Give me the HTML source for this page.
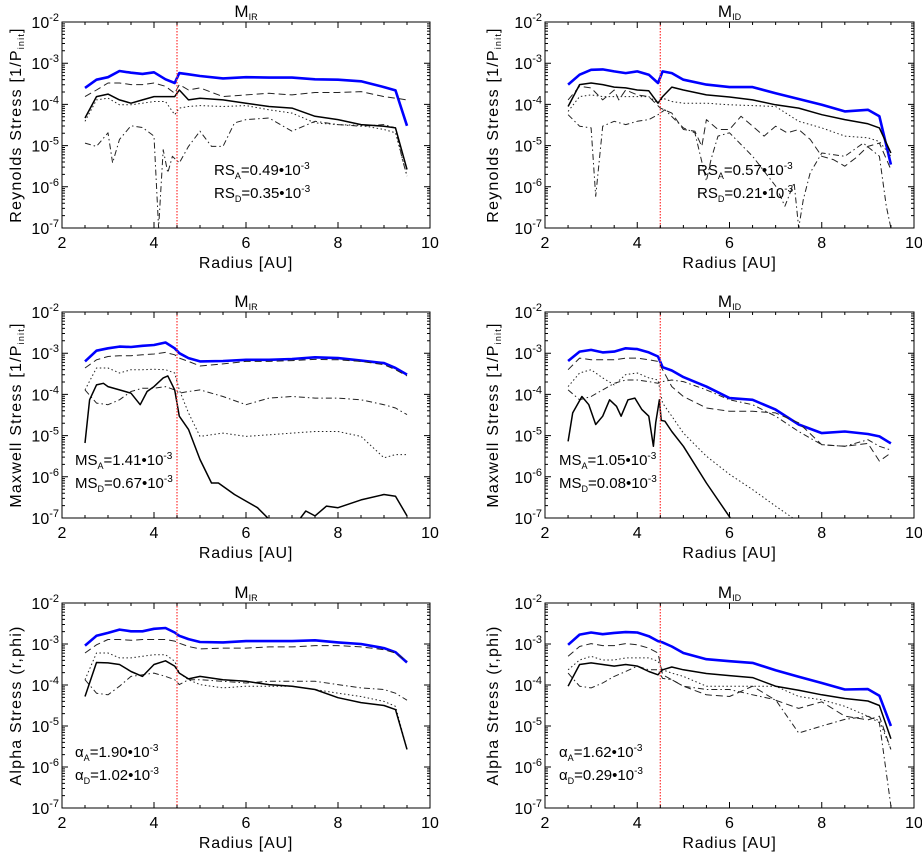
<!DOCTYPE html>
<html><head><meta charset="utf-8"><style>
html,body{margin:0;padding:0;background:#fff;}
svg{display:block;font-family:"Liberation Sans",sans-serif;}
</style></head><body>
<svg id="fig" width="922" height="852" viewBox="0 0 922 852" xmlns="http://www.w3.org/2000/svg"></svg>
<script>
// Shared radius grid (AU)
const G = [2.5,2.75,3,3.25,3.5,3.75,4,4.25,4.45,4.55,4.75,5,5.5,6,6.5,7,7.5,8,8.5,9,9.25,9.5];
const xTicks = [2,4,6,8,10];
const yExps = [-2,-3,-4,-5,-6,-7];
// All series values are log10 of stress
// Panel 1: Reynolds M_IR
const p1Blue = [-3.6,-3.4,-3.34,-3.19,-3.23,-3.26,-3.22,-3.39,-3.48,-3.24,-3.27,-3.31,-3.37,-3.34,-3.35,-3.35,-3.39,-3.4,-3.44,-3.58,-3.66,-4.52];
const p1Dash = [-3.81,-3.65,-3.48,-3.48,-3.52,-3.52,-3.48,-3.56,-3.73,-3.52,-3.65,-3.6,-3.81,-3.77,-3.73,-3.77,-3.71,-3.71,-3.69,-3.81,-3.85,-3.89];
const p1Solid = [-4.33,-3.81,-3.75,-3.89,-3.97,-3.89,-3.81,-3.81,-3.81,-3.65,-3.89,-3.85,-3.89,-3.97,-4.05,-4.09,-4.29,-4.37,-4.49,-4.53,-4.57,-5.58];
const p1Dot = [-4.41,-3.89,-3.85,-4.01,-4.01,-3.97,-3.93,-3.93,-4.25,-4.09,-4.05,-4.03,-4.05,-4.03,-4.13,-4.21,-4.45,-4.49,-4.51,-4.61,-4.69,-5.74];
const p1DdR = [2.5,2.75,3,3.1,3.25,3.5,3.75,4,4.1,4.2,4.3,4.4,4.55,4.75,5,5.25,5.5,5.75,6,6.5,7,7.5,8,8.5,9,9.25,9.4,9.5];
const p1Dd = [-4.94,-5.02,-4.69,-5.42,-4.85,-4.52,-4.56,-4.77,-7,-5.1,-5.66,-5.26,-5.42,-5.02,-4.65,-5.02,-5.02,-4.45,-4.37,-4.33,-4.65,-4.41,-4.49,-4.53,-4.49,-4.57,-5.34,-5.74];
// Panel 2: Maxwell M_IR
const p2Blue = [-3.2,-2.94,-2.88,-2.84,-2.85,-2.82,-2.8,-2.74,-2.88,-3.0,-3.12,-3.2,-3.19,-3.16,-3.16,-3.14,-3.1,-3.12,-3.18,-3.24,-3.36,-3.52];
const p2Dash = [-3.36,-3.16,-3.08,-3.06,-3.06,-3.04,-3.02,-2.98,-3.04,-3.12,-3.2,-3.31,-3.26,-3.2,-3.2,-3.18,-3.15,-3.16,-3.2,-3.28,-3.4,-3.55];
const p2Dot = [-3.89,-3.36,-3.36,-3.48,-3.4,-3.4,-3.39,-3.4,-3.48,-3.89,-4.45,-5.02,-4.94,-5.02,-4.98,-4.94,-4.9,-4.9,-5.02,-5.54,-5.46,-5.46];
const p2Dd = [-3.89,-4.21,-4.25,-4.13,-3.93,-3.85,-3.85,-3.81,-3.89,-3.97,-3.93,-3.89,-4.05,-4.25,-4.09,-4.05,-4.09,-4.09,-4.13,-4.25,-4.33,-4.49];
const p2SolidR = [2.5,2.6,2.75,2.9,3,3.25,3.5,3.7,3.85,4,4.2,4.3,4.45,4.55,4.75,5,5.25,5.4,5.75,6,6.25,6.5,7,7.3,7.5,7.75,8,8.5,9,9.25,9.5];
const p2Solid = [-5.18,-4.13,-3.77,-3.73,-3.81,-3.89,-3.97,-4.25,-3.93,-3.81,-3.6,-3.55,-3.89,-4.53,-4.85,-5.58,-6.15,-6.15,-6.43,-6.59,-6.75,-7.03,-7.27,-6.83,-6.95,-6.71,-6.75,-6.56,-6.43,-6.47,-6.95];
// Panel 3: Alpha M_IR
const p3Blue = [-3.04,-2.8,-2.73,-2.65,-2.69,-2.69,-2.63,-2.61,-2.72,-2.8,-2.88,-2.95,-2.96,-2.93,-2.93,-2.93,-2.91,-2.96,-3.0,-3.1,-3.2,-3.45];
const p3Dash = [-3.22,-3.02,-2.89,-2.89,-2.91,-2.89,-2.89,-2.89,-2.93,-2.98,-3.06,-3.12,-3.1,-3.1,-3.07,-3.07,-3.04,-3.04,-3.07,-3.14,-3.22,-3.42];
const p3Dot = [-3.87,-3.22,-3.22,-3.34,-3.34,-3.3,-3.26,-3.26,-3.42,-3.71,-3.87,-3.99,-4.07,-4.03,-4.03,-4.03,-4.11,-4.2,-4.28,-4.4,-4.52,-5.57];
const p3Solid = [-4.28,-3.45,-3.46,-3.5,-3.67,-3.79,-3.5,-3.41,-3.54,-3.71,-3.85,-3.79,-3.87,-3.91,-3.99,-4.03,-4.11,-4.31,-4.43,-4.5,-4.6,-5.57];
const p3Dd = [-3.87,-4.2,-4.24,-4.03,-3.79,-3.75,-3.71,-3.79,-3.87,-3.99,-3.87,-3.87,-3.91,-3.95,-3.91,-3.91,-3.91,-3.99,-4.07,-4.11,-4.2,-4.37];
// Panel 4: Reynolds M_ID
const p4Blue = [-3.52,-3.28,-3.16,-3.15,-3.2,-3.24,-3.2,-3.28,-3.48,-3.2,-3.24,-3.4,-3.52,-3.58,-3.58,-3.73,-3.87,-4.01,-4.17,-4.13,-4.29,-5.46];
const p4Solid = [-4.05,-3.52,-3.48,-3.52,-3.58,-3.6,-3.65,-3.67,-3.97,-3.81,-3.58,-3.65,-3.77,-3.82,-3.89,-4.01,-4.09,-4.25,-4.37,-4.47,-4.57,-5.18];
const p4Dot = [-4.17,-3.81,-3.77,-3.81,-3.81,-3.81,-3.81,-3.81,-3.97,-3.85,-3.93,-3.97,-3.97,-4.01,-4.03,-4.05,-4.41,-4.57,-4.77,-4.81,-4.9,-5.26];
const p4DashR = [2.5,2.75,3,3.25,3.5,3.6,3.75,4,4.25,4.5,4.75,5,5.25,5.4,5.5,5.75,6,6.25,6.5,6.75,7,7.25,7.5,7.75,8,8.25,8.5,8.75,9,9.25,9.5];
const p4Dash = [-3.89,-3.56,-3.6,-3.89,-3.65,-3.89,-3.65,-3.77,-3.81,-4.09,-4.21,-4.61,-4.65,-5.02,-4.37,-4.61,-4.61,-4.29,-4.53,-4.77,-4.53,-4.69,-4.61,-4.85,-5.26,-5.34,-5.5,-5.29,-5.02,-4.94,-5.58];
const p4DdR = [2.5,2.75,3,3.1,3.25,3.5,3.75,4,4.25,4.45,4.6,5,5.25,5.5,5.6,5.75,6,6.5,7,7.2,7.4,7.5,7.6,7.75,8,8.5,8.9,9.25,9.4,9.5];
const p4Dd = [-4.25,-4.53,-4.57,-6.23,-4.53,-4.41,-4.49,-4.41,-4.37,-4.25,-4.13,-4.57,-4.69,-5.86,-5.34,-4.77,-4.69,-5.26,-5.98,-6.47,-5.9,-7,-6.31,-5.66,-5.18,-5.26,-4.94,-5.26,-6.47,-7];
// Panel 5: Maxwell M_ID
const p5Blue = [-3.19,-2.96,-2.92,-2.98,-2.96,-2.88,-2.9,-2.98,-3.08,-3.34,-3.42,-3.58,-3.81,-4.09,-4.13,-4.37,-4.73,-4.94,-4.9,-4.96,-5.02,-5.19];
const p5Dash = [-3.4,-3.12,-3.16,-3.16,-3.16,-3.12,-3.12,-3.16,-3.2,-3.4,-3.81,-4.05,-4.33,-4.41,-4.41,-4.45,-4.69,-5.22,-5.26,-5.19,-5.62,-5.42];
const p5Dot = [-3.81,-3.48,-3.4,-3.6,-3.77,-3.52,-3.48,-3.6,-3.65,-4.21,-4.53,-4.94,-5.5,-5.94,-6.31,-6.71,-7.1,-7.5,-7.9,-8.3,-8.5,-8.7];
const p5Dd = [-3.89,-4.13,-4.05,-3.89,-3.73,-3.65,-3.65,-3.69,-3.73,-3.69,-3.65,-3.69,-3.89,-4.13,-4.25,-4.53,-4.9,-5.22,-5.26,-5.1,-5.26,-5.35];
const p5SolidR = [2.5,2.6,2.8,2.95,3.1,3.25,3.4,3.55,3.65,3.8,3.95,4.1,4.25,4.35,4.4,4.48,4.52,4.6,4.75,5,5.5,6,6.5];
const p5Solid = [-5.14,-4.45,-4.05,-4.25,-4.73,-4.53,-4.13,-4.29,-4.53,-4.13,-4.09,-4.37,-4.53,-5.26,-4.69,-4.13,-4.63,-4.65,-4.9,-5.26,-6.15,-6.97,-7.84];
// Panel 6: Alpha M_ID
const p6Blue = [-3.02,-2.77,-2.72,-2.76,-2.73,-2.71,-2.72,-2.81,-2.93,-2.96,-3.06,-3.22,-3.37,-3.42,-3.46,-3.64,-3.8,-3.95,-4.11,-4.1,-4.26,-5.0];
const p6Solid = [-4.03,-3.5,-3.46,-3.5,-3.54,-3.5,-3.54,-3.67,-3.75,-3.63,-3.56,-3.63,-3.72,-3.77,-3.82,-4.03,-4.13,-4.24,-4.33,-4.39,-4.5,-5.31];
const p6Dash = [-3.3,-3.06,-2.99,-3.04,-3.04,-2.99,-3.02,-3.1,-3.22,-3.75,-3.87,-4.03,-4.24,-4.28,-4.03,-4.37,-4.57,-4.41,-4.76,-4.85,-4.76,-5.57];
const p6Dot = [-3.63,-3.39,-3.3,-3.39,-3.39,-3.34,-3.34,-3.34,-3.42,-3.63,-3.71,-3.79,-4.03,-4.03,-4.03,-4.03,-4.28,-4.36,-4.52,-4.76,-4.87,-5.57];
const p6Dd = [-3.71,-4.03,-4.07,-3.95,-3.79,-3.67,-3.54,-3.63,-3.63,-3.84,-3.87,-4.03,-4.11,-4.11,-4.24,-4.36,-5.17,-5.0,-4.84,-4.76,-4.92,-6.95];

const NS = "http://www.w3.org/2000/svg";
const svg = document.getElementById("fig");
function el(tag, attrs, parent){const e=document.createElementNS(NS,tag);for(const k in attrs)e.setAttribute(k,attrs[k]);(parent||svg).appendChild(e);return e;}

const panels = [
 {id:"reynolds-ir",x0:62,x1:430,y0:22,y1:228,ylab:"Reynolds Stress [1/P",ysub:"init",ylabX:15,title:"M",tsub:"IR",
  ann:["RS","A","=0.49•10","-3","RS","D","=0.35•10","-3"],ax:214,ay:170,
  series:[["blue",G,p1Blue],["dash",G,p1Dash],["dot",G,p1Dot],["dd",p1DdR,p1Dd],["solid",G,p1Solid]]},
 {id:"maxwell-ir",x0:62,x1:430,y0:312,y1:518,ylab:"Maxwell Stress [1/P",ysub:"init",ylabX:15,title:"M",tsub:"IR",
  ann:["MS","A","=1.41•10","-3","MS","D","=0.67•10","-3"],ax:75,ay:460,
  series:[["blue",G,p2Blue],["dash",G,p2Dash],["dot",G,p2Dot],["dd",G,p2Dd],["solid",p2SolidR,p2Solid]]},
 {id:"alpha-ir",x0:62,x1:430,y0:603,y1:808,ylab:"Alpha Stress (r,phi)",ysub:"",ylabX:15,title:"M",tsub:"IR",
  ann:["α","A","=1.90•10","-3","α","D","=1.02•10","-3"],ax:75,ay:752,
  series:[["blue",G,p3Blue],["dash",G,p3Dash],["dot",G,p3Dot],["dd",G,p3Dd],["solid",G,p3Solid]]},
 {id:"reynolds-id",x0:545,x1:914,y0:22,y1:228,ylab:"Reynolds Stress [1/P",ysub:"init",ylabX:492,title:"M",tsub:"ID",
  ann:["RS","A","=0.57•10","-3","RS","D","=0.21•10","-3"],ax:697,ay:170,
  series:[["blue",G,p4Blue],["dash",p4DashR,p4Dash],["dot",G,p4Dot],["dd",p4DdR,p4Dd],["solid",G,p4Solid]]},
 {id:"maxwell-id",x0:545,x1:914,y0:312,y1:518,ylab:"Maxwell Stress [1/P",ysub:"init",ylabX:492,title:"M",tsub:"ID",
  ann:["MS","A","=1.05•10","-3","MS","D","=0.08•10","-3"],ax:559,ay:460,
  series:[["blue",G,p5Blue],["dash",G,p5Dash],["dot",G,p5Dot],["dd",G,p5Dd],["solid",p5SolidR,p5Solid]]},
 {id:"alpha-id",x0:545,x1:914,y0:603,y1:808,ylab:"Alpha Stress (r,phi)",ysub:"",ylabX:492,title:"M",tsub:"ID",
  ann:["α","A","=1.62•10","-3","α","D","=0.29•10","-3"],ax:559,ay:752,
  series:[["blue",G,p6Blue],["dash",G,p6Dash],["dot",G,p6Dot],["dd",G,p6Dd],["solid",G,p6Solid]]}
];
const styles = {
 blue:{stroke:"#0000ff","stroke-width":2.6},
 solid:{stroke:"#000","stroke-width":1.5},
 dash:{stroke:"#222","stroke-width":1,"stroke-dasharray":"7,4"},
 dot:{stroke:"#222","stroke-width":1,"stroke-dasharray":"1.5,2.5"},
 dd:{stroke:"#222","stroke-width":1,"stroke-dasharray":"6,3,1.5,3"}
};
const names={blue:"total-stress-line",solid:"solid-line",dash:"dashed-line",dot:"dotted-line",dd:"dash-dot-line"};

panels.forEach((p,pi)=>{
  const g = el("g",{});
  
  
  const xs = v => p.x0 + (v-2)/8*(p.x1-p.x0);
  const ys = lg => p.y0 + (-2-lg)/5*(p.y1-p.y0);
  const clipId="clip"+pi;
  const cp=el("clipPath",{id:clipId},g);
  el("rect",{x:p.x0,y:p.y0,width:p.x1-p.x0,height:p.y1-p.y0},cp);
  p.series.forEach(s=>{
    const [st,rr,vv]=s;
    const d = vv.map((v,i)=>(i?"L":"M")+xs(rr[i]).toFixed(1)+","+ys(v).toFixed(1)).join("");
    const path = el("path",Object.assign({d:d,fill:"none","clip-path":"url(#"+clipId+")","stroke-linejoin":"round"},styles[st]),g);
    
    
  });
  const rl=el("line",{x1:xs(4.5),x2:xs(4.5),y1:p.y0,y2:p.y1,stroke:"#ff4040","stroke-width":1.3,"stroke-dasharray":"1.5,1.5"},g);
  
  
  const box=el("rect",{x:p.x0,y:p.y0,width:p.x1-p.x0,height:p.y1-p.y0,fill:"none",stroke:"#000","stroke-width":1},g);
  
  
  let tk="";
  for(let v=2; v<=10.001; v+=0.5){
    const x=xs(v); const L=(Math.abs(v-Math.round(v/2)*2)<1e-6)?6:3;
    tk+=`M${x},${p.y1}v${-L}M${x},${p.y0}v${L}`;
  }
  for(let e=-7;e<=-2;e++){
    const y=ys(e); tk+=`M${p.x0},${y}h6M${p.x1},${y}h-6`;
    if(e<-2) for(let m=2;m<=9;m++){const ym=ys(e+Math.log10(m)); tk+=`M${p.x0},${ym}h3M${p.x1},${ym}h-3`;}
  }
  el("path",{d:tk,stroke:"#000","stroke-width":1,fill:"none"},g);
  xTicks.forEach(v=>{
    const t=el("text",{x:xs(v),y:p.y1+20,"text-anchor":"middle","font-size":16,fill:"#000"},g);
    t.textContent=v;
    
    
  });
  yExps.forEach(e=>{
    const t=el("text",{x:p.x0-3,y:ys(e)+6,"text-anchor":"end","font-size":16,fill:"#000"},g);
    t.innerHTML=`10<tspan dy="-7" font-size="11">${e}</tspan>`;
    
    
  });
  const xl=el("text",{x:(p.x0+p.x1)/2,y:p.y1+40,"text-anchor":"middle","font-size":16,"letter-spacing":"0.8",fill:"#000"},g);
  xl.textContent="Radius [AU]";
  
  
  const cy=(p.y0+p.y1)/2;
  const yl=el("text",{x:0,y:0,"text-anchor":"middle","font-size":16,"letter-spacing":"1.2",fill:"#000",transform:`translate(${p.ylabX+6},${cy}) rotate(-90)`},g);
  yl.innerHTML = p.ysub ? `${p.ylab}<tspan font-size="9" dy="3">${p.ysub}</tspan><tspan dy="-3">]</tspan>` : p.ylab;
  
  
  const tt=el("text",{x:(p.x0+p.x1)/2,y:p.y0-5,"text-anchor":"middle","font-size":17,fill:"#000"},g);
  tt.innerHTML=`${p.title}<tspan font-size="9" dy="3">${p.tsub}</tspan>`;
  
  
  for(let k=0;k<2;k++){
    const a=p.ann.slice(k*4,k*4+4);
    const at=el("text",{x:p.ax,y:p.ay+k*23+5,"font-size":15,fill:"#000"},g);
    at.innerHTML=`${a[0]}<tspan font-size="9" dy="4">${a[1]}</tspan><tspan dy="-4">${a[2]}</tspan><tspan font-size="10" dy="-6">${a[3]}</tspan>`;
    
    
  }
});
</script>
</body></html>
